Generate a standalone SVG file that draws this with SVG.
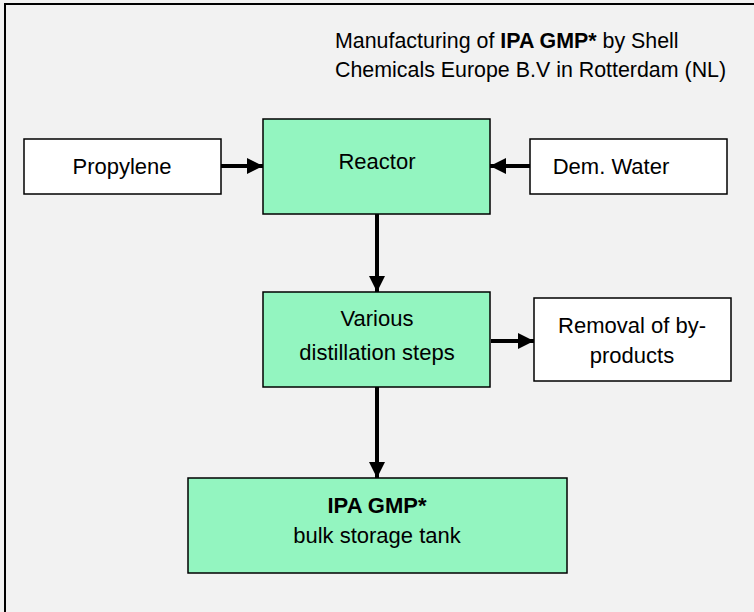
<svg xmlns="http://www.w3.org/2000/svg" width="754" height="612" viewBox="0 0 754 612">
<defs>
<style>
text{font-family:"Liberation Sans",Arial,sans-serif;fill:#000}
.t{font-size:21.4px}
.b{font-size:22px;text-anchor:middle}
.white{fill:#fff;stroke:#000;stroke-width:1.5}
.green{fill:#93f5c0;stroke:#000;stroke-width:1.5}
.c{stroke:#000;stroke-width:4;fill:none}
</style>
<marker id="ah" markerUnits="userSpaceOnUse" markerWidth="16" markerHeight="16" viewBox="0 0 16 16" refX="16" refY="8" orient="auto">
<path d="M0,0 L16,8 L0,16 Z" fill="#000"/>
</marker>
</defs>
<rect x="0" y="0" width="754" height="612" fill="#f2f2f2"/>
<rect x="5" y="4" width="800" height="700" fill="#f2f2f2" stroke="#000" stroke-width="2"/>
<text class="t" x="335" y="48">Manufacturing of <tspan font-weight="bold">IPA GMP*</tspan> by Shell</text>
<text class="t" x="335" y="77">Chemicals Europe B.V in Rotterdam (NL)</text>
<g id="propylene">
<rect class="white" x="24" y="139" width="197" height="55"/>
<text class="b" x="122" y="174">Propylene</text>
</g>
<g id="reactor">
<rect class="green" x="263" y="119" width="227" height="95"/>
<text class="b" x="377" y="169">Reactor</text>
</g>
<g id="demwater">
<rect class="white" x="530" y="139" width="197" height="55"/>
<text class="b" x="611" y="174">Dem. Water</text>
</g>
<g id="distillation">
<rect class="green" x="263" y="292" width="227" height="95"/>
<text class="b" x="377" y="326">Various</text>
<text class="b" x="377" y="360">distillation steps</text>
</g>
<g id="removal">
<rect class="white" x="534" y="298" width="197" height="83"/>
<text class="b" x="632" y="333">Removal of by-</text>
<text class="b" x="632" y="363">products</text>
</g>
<g id="ipa">
<rect class="green" x="188" y="478" width="379" height="95"/>
<text class="b" x="377" y="513" font-weight="bold">IPA GMP*</text>
<text class="b" x="377" y="543">bulk storage tank</text>
</g>
<g id="connectors">
<line class="c" x1="221" y1="166" x2="263" y2="166" marker-end="url(#ah)"/>
<line class="c" x1="530" y1="166" x2="490" y2="166" marker-end="url(#ah)"/>
<line class="c" x1="377" y1="214" x2="377" y2="292" marker-end="url(#ah)"/>
<line class="c" x1="491" y1="341" x2="534" y2="341" marker-end="url(#ah)"/>
<line class="c" x1="377" y1="387" x2="377" y2="478" marker-end="url(#ah)"/>
</g>
</svg>
